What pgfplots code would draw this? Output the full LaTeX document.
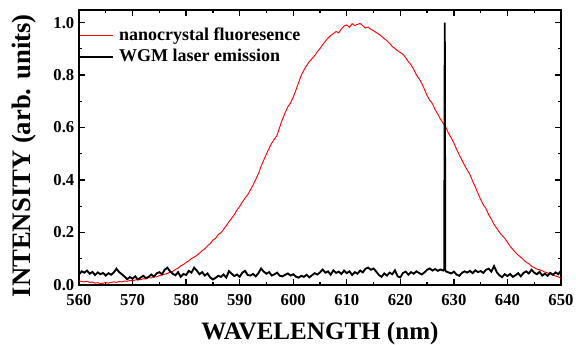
\documentclass[border=0pt]{standalone}
\usepackage{fontspec}
\setmainfont{Liberation Serif}
\usepackage{pgfplots}
\pgfplotsset{compat=1.18}
\newcommand{\tl}[1]{\textbf{\fontsize{12.5}{12.5}\selectfont #1}}
\begin{document}
\begin{tikzpicture}
\path[use as bounding box] (-59.25pt,-45pt) rectangle (372.75pt,213.75pt);
\begin{axis}[
  scale only axis, width=361.5pt, height=206.25pt,
  xmin=560, xmax=650, ymin=0, ymax=1.048,
  xtick={560,570,580,590,600,610,620,630,640,650}, minor xtick={565,575,...,645},
  xticklabels={\tl{560},\tl{570},\tl{580},\tl{590},\tl{600},\tl{610},\tl{620},\tl{630},\tl{640},\tl{650}},
  ytick={0,0.2,0.4,0.6,0.8,1.0}, minor ytick={0.1,0.3,...,0.9},
  yticklabels={\tl{0.0},\tl{0.2},\tl{0.4},\tl{0.6},\tl{0.8},\tl{1.0}},
  tick align=inside, tick pos=both,
  major tick length=4.5pt, minor tick length=2.5pt,
  axis line style={line width=1.1pt},
  every tick/.style={line width=1pt, black},
  xticklabel style={yshift=-3.5pt},
  xlabel={WAVELENGTH (nm)},
  ylabel={INTENSITY (arb. units)},
  xlabel style={font=\bfseries\fontsize{18.8}{18.8}\selectfont, at={(axis description cs:0.5,-0.178)}, anchor=center},
  ylabel style={font=\bfseries\fontsize{20}{20}\selectfont, at={(axis description cs:-0.1134,0.47)}, anchor=center},
  legend style={draw=none, fill=none, at={(axis description cs:0,0.945)}, anchor=north west,
    font=\bfseries\fontsize{13.5}{13.5}\selectfont, inner xsep=0pt, inner ysep=0pt,
    row sep=1pt, nodes={inner xsep=4pt}},
  legend cell align=left,
  legend image code/.code={\draw[#1] (-5pt,0pt) -- (19.5pt,0pt);},
]
\addplot[red, line width=0.7pt] coordinates {
(560,0.016)(560.5,0.013)(561,0.012)(561.5,0.014)(562,0.010)(562.5,0.011)(563,0.007)(563.5,0.009)
(564,0.005)(564.5,0.007)(565,0.009)(565.5,0.007)(566,0.010)(566.5,0.012)(567,0.010)(567.5,0.013)
(568,0.012)(568.5,0.015)(569,0.014)(569.5,0.017)(570,0.016)(570.5,0.019)(571,0.021)(571.5,0.020)
(572,0.024)(572.5,0.023)(573,0.028)(573.5,0.027)(574,0.032)(574.5,0.031)(575,0.036)(575.5,0.038)
(576,0.041)(576.5,0.044)(577,0.049)(577.5,0.052)(578,0.059)(578.5,0.064)(579,0.073)(579.5,0.078)
(580,0.086)(580.5,0.092)(581,0.101)(581.5,0.106)(582,0.113)(582.5,0.121)(583,0.131)(583.5,0.138)
(584,0.149)(584.5,0.158)(585,0.171)(585.5,0.178)(586,0.192)(586.5,0.199)(587,0.212)(587.5,0.226)
(588,0.241)(588.5,0.254)(589,0.268)(589.5,0.286)(590,0.299)(590.5,0.316)(591,0.331)(591.5,0.344)
(592,0.362)(592.5,0.381)(593,0.402)(593.5,0.424)(594,0.452)(594.5,0.476)(595,0.499)(595.5,0.521)
(596,0.541)(596.5,0.556)(597,0.571)(597.5,0.603)(598,0.632)(598.5,0.657)(599,0.679)(599.5,0.694)
(600,0.716)(600.5,0.742)(601,0.771)(601.5,0.799)(602,0.819)(602.5,0.836)(603,0.851)(603.5,0.862)
(604,0.874)(604.5,0.889)(605,0.901)(605.5,0.916)(606,0.929)(606.5,0.941)(607,0.951)(607.5,0.958)
(608,0.966)(608.5,0.961)(609,0.976)(609.5,0.987)(610,0.991)(610.5,0.982)(611,0.996)(611.5,0.989)
(612,0.993)(612.5,0.997)(613,0.988)(613.5,0.979)(614,0.983)(614.5,0.974)(615,0.969)(615.5,0.962)
(616,0.956)(616.5,0.948)(617,0.939)(617.5,0.931)(618,0.921)(618.5,0.909)(619,0.901)(619.5,0.893)
(620,0.886)(620.5,0.879)(621,0.866)(621.5,0.851)(622,0.839)(622.5,0.822)(623,0.801)(623.5,0.786)
(624,0.769)(624.5,0.746)(625,0.722)(625.5,0.704)(626,0.691)(626.5,0.668)(627,0.651)(627.5,0.632)
(628,0.616)(628.5,0.601)(629,0.578)(629.5,0.561)(630,0.541)(630.5,0.518)(631,0.496)(631.5,0.476)
(632,0.456)(632.5,0.438)(633,0.421)(633.5,0.396)(634,0.374)(634.5,0.349)(635,0.326)(635.5,0.306)
(636,0.291)(636.5,0.268)(637,0.251)(637.5,0.231)(638,0.216)(638.5,0.201)(639,0.189)(639.5,0.178)
(640,0.163)(640.5,0.148)(641,0.136)(641.5,0.124)(642,0.114)(642.5,0.106)(643,0.096)(643.5,0.087)
(644,0.081)(644.5,0.072)(645,0.066)(645.5,0.061)(646,0.058)(646.5,0.054)(647,0.049)(647.5,0.046)
(648,0.043)(648.5,0.038)(649,0.034)(649.5,0.031)(650,0.026)
};
\addlegendentry{nanocrystal fluoresence}
\addplot[black, line width=1.4pt] coordinates {
(560,0.040)(560.5,0.052)(561,0.047)(561.5,0.055)(562,0.043)(562.5,0.050)(563,0.038)(563.5,0.048)
(564,0.041)(564.5,0.046)(565,0.036)(565.5,0.045)(566,0.039)(566.5,0.048)(567,0.062)(567.5,0.049)
(568,0.041)(568.5,0.032)(569,0.022)(569.5,0.030)(570,0.024)(570.5,0.033)(571,0.021)(571.5,0.028)
(572,0.035)(572.5,0.026)(573,0.031)(573.5,0.040)(574,0.032)(574.5,0.044)(575,0.049)(575.5,0.041)
(576,0.058)(576.5,0.066)(577,0.052)(577.5,0.043)(578,0.037)(578.5,0.049)(579,0.031)(579.5,0.042)
(580,0.038)(580.5,0.054)(581,0.047)(581.5,0.066)(582,0.055)(582.5,0.041)(583,0.049)(583.5,0.036)
(584,0.044)(584.5,0.029)(585,0.021)(585.5,0.027)(586,0.035)(586.5,0.031)(587,0.040)(587.5,0.028)
(588,0.053)(588.5,0.043)(589,0.034)(589.5,0.040)(590,0.031)(590.5,0.047)(591,0.054)(591.5,0.038)
(592,0.036)(592.5,0.042)(593,0.033)(593.5,0.045)(594,0.063)(594.5,0.051)(595,0.043)(595.5,0.049)
(596,0.036)(596.5,0.041)(597,0.047)(597.5,0.035)(598,0.033)(598.5,0.039)(599,0.044)(599.5,0.036)
(600,0.041)(600.5,0.032)(601,0.028)(601.5,0.035)(602,0.031)(602.5,0.039)(603,0.029)(603.5,0.037)
(604,0.045)(604.5,0.040)(605,0.048)(605.5,0.059)(606,0.047)(606.5,0.052)(607,0.039)(607.5,0.056)
(608,0.046)(608.5,0.051)(609,0.042)(609.5,0.055)(610,0.045)(610.5,0.052)(611,0.038)(611.5,0.049)
(612,0.043)(612.5,0.055)(613,0.048)(613.5,0.062)(614,0.066)(614.5,0.058)(615,0.063)(615.5,0.051)
(616,0.038)(616.5,0.031)(617,0.044)(617.5,0.036)(618,0.047)(618.5,0.041)(619,0.056)(619.5,0.033)
(620,0.029)(620.5,0.046)(621,0.051)(621.5,0.039)(622,0.049)(622.5,0.043)(623,0.052)(623.5,0.046)
(624,0.040)(624.5,0.048)(625,0.058)(625.5,0.063)(626,0.055)(626.5,0.061)(627,0.054)(627.5,0.059)
(628,0.055)(628.2,0.060)(628.3,1.000)(628.4,0.058)(628.5,0.052)(629,0.048)(629.5,0.044)(630,0.051)
(630.5,0.040)(631,0.035)(631.5,0.046)(632,0.052)(632.5,0.047)(633,0.054)(633.5,0.045)(634,0.056)
(634.5,0.049)(635,0.053)(635.5,0.046)(636,0.058)(636.5,0.062)(637,0.051)(637.5,0.072)(638,0.049)
(638.5,0.037)(639,0.030)(639.5,0.041)(640,0.034)(640.5,0.042)(641,0.031)(641.5,0.037)(642,0.045)
(642.5,0.033)(643,0.046)(643.5,0.052)(644,0.044)(644.5,0.058)(645,0.047)(645.5,0.041)(646,0.050)
(646.5,0.036)(647,0.043)(647.5,0.035)(648,0.046)(648.5,0.039)(649,0.048)(649.5,0.041)(650,0.055)
};
\addlegendentry{WGM laser emission}
\end{axis}
\end{tikzpicture}
\end{document}
